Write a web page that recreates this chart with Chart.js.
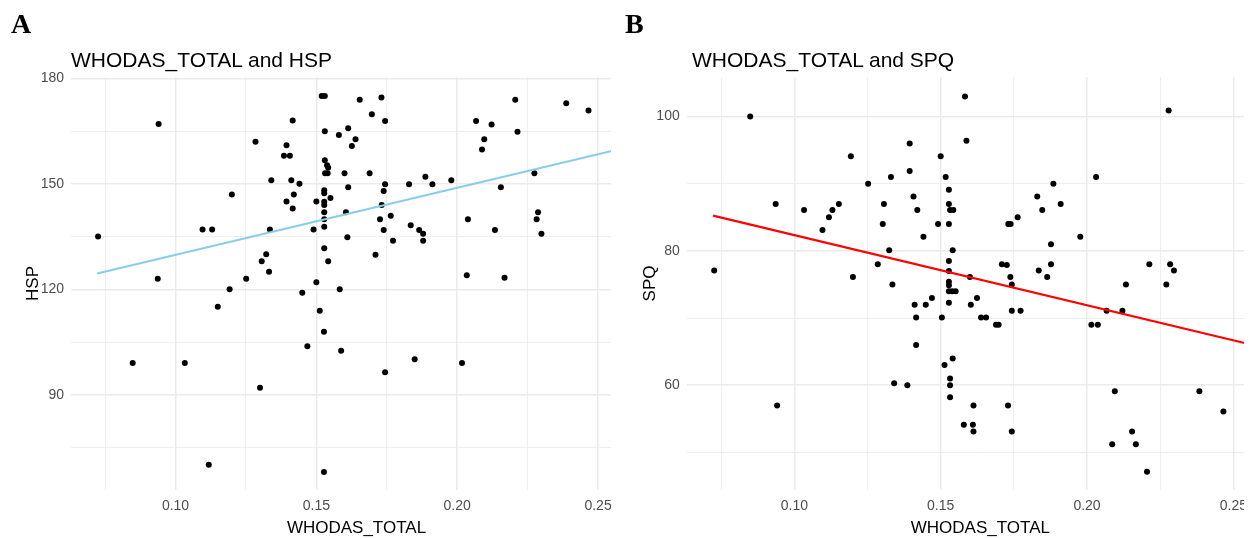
<!DOCTYPE html>
<html>
<head>
<meta charset="utf-8">
<script src="https://cdn.jsdelivr.net/npm/chart.js@4.4.1/dist/chart.umd.min.js"></script>
<style>
  html, body { margin: 0; padding: 0; background: #fff; }
  body { width: 1255px; height: 539px; position: relative; overflow: hidden; font-family: "Liberation Sans", Arial, sans-serif; }
  .panel { position: absolute; top: 0; height: 539px; overflow: hidden; }
  .panel canvas { position: absolute; left: 0; top: 0; }
  .letter { position: absolute; font-family: "Liberation Serif", "Times New Roman", serif; font-weight: bold; font-size: 28px; line-height: 28px; color: #000; z-index: 2; }
  .title { position: absolute; font-family: "Liberation Sans", Arial, sans-serif; font-size: 21px; line-height: 21px; color: #000; white-space: nowrap; z-index: 2; }
</style>
</head>
<body>
<div class="letter" style="left:11px;top:10px;">A</div>
<div class="letter" style="left:625px;top:10px;">B</div>
<div class="title" style="left:71px;top:49px;">WHODAS_TOTAL and HSP</div>
<div class="title" style="left:692px;top:49px;">WHODAS_TOTAL and SPQ</div>
<div class="panel" style="left:0px;width:611px;"><canvas id="chartA" width="650" height="539"></canvas></div>
<div class="panel" style="left:620px;width:624px;"><canvas id="chartB" width="662" height="539"></canvas></div>
<script>
// ---------- Data ----------
const whodasA = [0.0725,0.094,0.0937,0.120,0.1096,0.113,0.1192,0.115,0.1251,0.1284,0.134,0.1335,0.1322,0.1306,0.1332,0.1416,0.1394,0.1385,0.1406,0.1411,0.144,0.142,0.1394,0.1416,0.145,0.150,0.149,0.150,0.1519,0.1530,0.153,0.1530,0.1538,0.1542,0.1531,0.1540,0.1528,0.1528,0.155,0.1528,0.1528,0.1528,0.1528,0.1528,0.1528,0.1542,0.1583,0.1605,0.161,0.1613,0.160,0.1613,0.158,0.1639,0.1626,0.1654,0.1697,0.1731,0.1744,0.1689,0.1744,0.1739,0.1732,0.1726,0.1739,0.1764,0.1772,0.171,0.1829,0.1835,0.1865,0.1879,0.1879,0.1887,0.1912,0.1979,0.2067,0.2122,0.2096,0.2088,0.2038,0.2034,0.2134,0.2155,0.2168,0.2206,0.2214,0.2274,0.2287,0.2282,0.2299,0.2387,0.2466,0.0848,0.1033,0.130,0.1118,0.1527,0.1512,0.1527,0.1468,0.1588,0.1744,0.1849,0.2017];
const hspValues = [135,167,123,147,137,137,120,115,123,162,151,137,130,128,125,168,161,158,158,151,150,147,145,143,119,122,137,145,175,175,165,156.7,155.3,154.6,153,153,148.2,147.3,146,144.9,144,141.9,139.9,137.8,131.7,128,120,141.9,134.8,149,153,165.8,163.9,162.7,160.8,173.9,169.8,174.6,167.9,153,149.9,148,144,139.9,136.9,140.9,133.8,129.8,149.9,138.2,136.9,135.8,133.8,152,149.9,151,167.9,166.9,162.7,159.8,139.9,124,136.9,149,123.3,173.9,164.8,153,141.9,139.9,135.8,172.9,170.9,99,99,92,70.1,68,113.9,107.9,103.8,102.5,96.4,100.1,99];

const whodasB = [0.1583,0.1588,0.0849,0.1193,0.1394,0.150,0.1394,0.133,0.1517,0.1252,0.1528,0.1407,0.1306,0.1528,0.1532,0.1543,0.142,0.0936,0.1033,0.113,0.1118,0.1152,0.1096,0.1302,0.1491,0.1528,0.1441,0.1324,0.1541,0.1285,0.1528,0.0726,0.120,0.1335,0.1528,0.1528,0.1528,0.1528,0.1539,0.1551,0.147,0.1411,0.1449,0.1528,0.2279,0.2031,0.1885,0.183,0.1847,0.191,0.1763,0.1731,0.1739,0.1977,0.1877,0.1709,0.1726,0.1877,0.1835,0.1864,0.1738,0.1743,0.160,0.1624,0.1603,0.2213,0.2284,0.2297,0.2271,0.2133,0.1743,0.1773,0.2121,0.2067,0.1638,0.1655,0.1689,0.1698,0.2015,0.2037,0.1541,0.1532,0.1532,0.1532,0.1612,0.173,0.1579,0.161,0.1612,0.1743,0.2095,0.2384,0.2466,0.2154,0.2086,0.2167,0.2205,0.1416,0.1504,0.1416,0.1513,0.1341,0.1386,0.0941];
const spqValues = [103,96.4,100,94.1,96,94.1,91.9,91,91,90,89.1,88.1,87,87,86.1,86.1,86.1,87,86.1,86.1,85,87,83.1,84,84,84,82.1,80.1,80.1,78,78.5,77.1,76.1,75,77,75.4,74.9,74,74,74,73,72,72,72.3,100.9,91,90,88.1,86.1,87,85,84,84,82.1,81,78,77.9,78,77.1,76.1,76.1,75,76.1,73,72,78,78,77.1,75,75,71.1,71.1,71.1,71.1,70.1,70.1,69,69,69,69,64,61,60,58.2,57,57,54.1,54.1,53.1,53.1,59.1,59.1,56.1,53.1,51.2,51.2,47.1,70.1,70.1,66,63,60.3,60,57];

// fitted regression lines (end points)
const fitX = [0.0722, 0.2556];
const fitHSP = [124.5, 159.5];
const fitSPQ = [85.25, 66.1];

// tick values / labels
const xTickValues = [0.075, 0.10, 0.125, 0.15, 0.175, 0.20, 0.225, 0.25];
const xTickLabels = ['', '0.10', '', '0.15', '', '0.20', '', '0.25'];
const hspTickValues = [75, 90, 105, 120, 135, 150, 165, 180];
const hspTickLabels = ['', '90', '', '120', '', '150', '', '180'];
const spqTickValues = [50, 60, 70, 80, 90, 100];
const spqTickLabels = ['', '60', '', '80', '', '100'];

// ---------- Chart helpers ----------
function labelFor(values, labels, v) {
  for (let i = 0; i < values.length; i++) if (Math.abs(values[i] - v) < 1e-9) return labels[i];
  return '';
}

function makeChart(id, xs, ys, fitYs, lineColor, yTitle, cfg) {
  const pts = xs.map((x, i) => ({ x: x, y: ys[i] }));
  const fit = fitX.map((x, i) => ({ x: x, y: fitYs[i] }));
  const tickFont = { family: '"Liberation Sans", Arial, sans-serif', size: 14 };
  const titleFont = { family: '"Liberation Sans", Arial, sans-serif', size: 17 };
  return new Chart(document.getElementById(id), {
    type: 'scatter',
    data: {
      datasets: [
        { data: fit, showLine: true, borderColor: lineColor, borderWidth: 2.2, pointRadius: 0, fill: false },
        { data: pts, pointRadius: 3, pointBorderWidth: 0, backgroundColor: '#000', borderColor: '#000' }
      ]
    },
    options: {
      responsive: false,
      animation: false,
      devicePixelRatio: 1,
      layout: { padding: { top: 77, left: 0, right: 8, bottom: 0 } },
      plugins: { legend: { display: false }, tooltip: { enabled: false }, title: { display: false } },
      scales: {
        x: {
          type: 'linear', min: cfg.xMin, max: cfg.xMax,
          afterBuildTicks: s => { s.ticks = xTickValues.map(v => ({ value: v })); },
          afterFit: s => { s.height = 49; },
          ticks: { autoSkip: false, maxRotation: 0, padding: 8, color: '#4d4d4d', font: tickFont,
                   callback: v => labelFor(xTickValues, xTickLabels, v) },
          grid: { color: '#ebebeb', drawTicks: false, tickLength: 0,
                  lineWidth: c => (labelFor(xTickValues, xTickLabels, c.tick ? c.tick.value : -1) ? 1.5 : 0.8) },
          border: { display: false },
          title: { display: true, text: 'WHODAS_TOTAL', color: '#000', font: titleFont, padding: { top: 0, bottom: 0.5 } }
        },
        y: {
          type: 'linear', min: cfg.yMin, max: cfg.yMax,
          afterBuildTicks: s => { s.ticks = cfg.yTicks.map(v => ({ value: v })); },
          afterFit: s => { s.width = cfg.yWidth; },
          ticks: { autoSkip: false, padding: 7, color: '#4d4d4d', font: tickFont,
                   callback: v => labelFor(cfg.yTicks, cfg.yLabels, v) },
          grid: { color: '#ebebeb', drawTicks: false, tickLength: 0,
                  lineWidth: c => (labelFor(cfg.yTicks, cfg.yLabels, c.tick ? c.tick.value : -1) ? 1.5 : 0.8) },
          border: { display: false },
          title: { display: true, text: yTitle, color: '#000', font: titleFont, padding: { top: cfg.yTitlePad, bottom: 0 } }
        }
      }
    }
  });
}

makeChart('chartA', whodasA, hspValues, fitHSP, '#87CEEB', 'HSP', {
  xMin: 0.0629, xMax: 0.2656, yMin: 62.9, yMax: 180.4,
  yTicks: hspTickValues, yLabels: hspTickLabels, yWidth: 71, yTitlePad: 23.5
});
makeChart('chartB', whodasB, spqValues, fitSPQ, '#FF0000', 'SPQ', {
  xMin: 0.0632, xMax: 0.2639, yMin: 44.4, yMax: 105.9,
  yTicks: spqTickValues, yLabels: spqTickLabels, yWidth: 66.7, yTitlePad: 20
});
</script>
</body>
</html>
